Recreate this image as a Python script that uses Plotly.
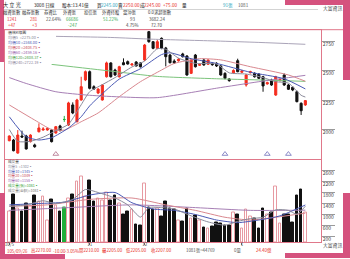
import plotly.graph_objects as go

W, H = 350, 259
F = "Noto Sans CJK TC"

# ---------------- data ----------------
day = list(range(1, 72))
opens = [1905, 1911, 1800, 1945, 1945, 1897, 1869, 1981, 1996, 1996,
         1996, 1970, 2030, 2085, 2038, 2208, 2066, 2250, 2420, 2490,
         2363, 2309, 2250, 2447, 2564, 2504, 2447, 2566, 2575, 2547,
         2572, 2564, 2589, 2829, 2744, 2688, 2773, 2691, 2631, 2580,
         2583, 2640, 2623, 2476, 2631, 2544, 2589, 2553, 2561, 2561,
         2538, 2476, 2428, 2480, 2583, 2485, 2377, 2481, 2476, 2470,
         2447, 2386, 2420, 2292, 2414, 2462, 2377, 2358, 2320, 2222,
         2208]
highs = [1950, 1920, 1995, 1990, 1955, 1960, 1880, 2052, 2020, 2020,
         2005, 2030, 2040, 2115, 2235, 2230, 2260, 2447, 2500, 2500,
         2375, 2350, 2385, 2575, 2570, 2515, 2540, 2603, 2585, 2560,
         2580, 2570, 2725, 2835, 2750, 2760, 2780, 2700, 2640, 2595,
         2605, 2650, 2630, 2600, 2640, 2560, 2600, 2595, 2570, 2570,
         2545, 2485, 2435, 2510, 2600, 2505, 2470, 2498, 2485, 2478,
         2455, 2405, 2430, 2455, 2432, 2475, 2385, 2365, 2330, 2230,
         2250]
lows = [1900, 1815, 1795, 1930, 1830, 1890, 1845, 1975, 1990, 1990,
        1890, 1965, 1985, 2065, 2030, 2130, 2060, 2245, 2410, 2340,
        2335, 2300, 2245, 2440, 2440, 2455, 2440, 2545, 2550, 2540,
        2535, 2525, 2580, 2735, 2680, 2680, 2680, 2535, 2560, 2555,
        2575, 2610, 2455, 2470, 2525, 2538, 2540, 2548, 2540, 2530,
        2455, 2425, 2405, 2470, 2485, 2478, 2363, 2475, 2440, 2428,
        2320, 2380, 2370, 2285, 2408, 2370, 2335, 2325, 2230, 2123,
        2200]
closes = [1945, 1820, 1953, 1936, 1835, 1953, 1854, 2013, 2004, 2010,
          1897, 2024, 1990, 2085, 2225, 2140, 2250, 2363, 2490, 2349,
          2343, 2343, 2377, 2564, 2447, 2462, 2532, 2549, 2555, 2555,
          2538, 2532, 2716, 2744, 2688, 2744, 2688, 2617, 2566, 2564,
          2595, 2617, 2462, 2589, 2532, 2552, 2547, 2589, 2549, 2538,
          2462, 2434, 2414, 2500, 2490, 2496, 2462, 2490, 2447, 2434,
          2369, 2397, 2377, 2447, 2425, 2377, 2341, 2335, 2236, 2159,
          2245]
volumes = [1100, 1734, 1225, 1127, 1407, 1284, 1684, 1465, 1647, 800,
           1553, 1345, 1102, 1262, 1589, 1734, 2218, 2375, 1647, 2230,
           1465, 1589, 1527, 1793, 1527, 1709, 1407, 982, 1102, 1164,
           654, 618, 2133, 1262, 1164, 1225, 921, 1465, 1225, 1164,
           800, 739, 1225, 860, 958, 800, 533, 497, 557, 703,
           679, 618, 618, 1067, 982, 473, 1188, 921, 860, 497,
           1225, 1018, 1067, 2036, 679, 982, 982, 715, 1709, 1927,
           1081]

# moving-average lines (day index, value)
ma5_day = [1, 3, 6, 9, 12, 15, 18, 20, 23, 26, 30, 33, 36, 38, 41, 45, 50, 53, 57, 61, 64, 67, 70, 71]
ma5_val = [2000, 1900, 1900, 1935, 1990, 2045, 2210, 2320, 2380, 2440, 2530, 2580, 2685, 2680, 2605, 2560, 2555, 2480, 2470, 2440, 2405, 2393, 2290, 2275]
ma10_day = [1, 5, 8, 11, 15, 18, 20, 22, 27, 32, 37, 39, 44, 50, 58, 66, 71]
ma10_val = [2108, 1939, 1911, 1930, 2013, 2108, 2200, 2270, 2427, 2515, 2635, 2650, 2600, 2560, 2485, 2430, 2344]
ma20_day = [1, 7, 11, 14, 18, 22, 27, 32, 37, 40, 46, 51, 58, 67, 71]
ma20_val = [2208, 2080, 2000, 1995, 2066, 2140, 2278, 2405, 2504, 2560, 2600, 2590, 2532, 2462, 2409]
ma60_day = [1, 5, 12, 20, 28, 36, 50, 60, 71]
ma60_val = [2440, 2390, 2320, 2290, 2275, 2270, 2350, 2405, 2459]
ma120_day = [11, 25, 36, 50, 60, 71]
ma120_val = [2552, 2495, 2450, 2430, 2420, 2408]
ma240_day = [11, 25, 35, 50, 60, 71]
ma240_val = [2790, 2780, 2765, 2750, 2738, 2722]

vma5_day = [1, 5, 9, 12, 16, 19, 22, 26, 29, 32, 34, 37, 40, 44, 48, 52, 55, 58, 61, 64, 67, 69, 71]
vma5_val = [1300, 1350, 1500, 1400, 1550, 1910, 1800, 1600, 1350, 905, 1250, 1250, 1200, 950, 730, 610, 750, 850, 900, 1170, 1150, 1010, 1302]
vma10_day = [1, 8, 14, 20, 26, 30, 35, 40, 45, 50, 55, 60, 65, 71]
vma10_val = [1350, 1400, 1450, 1706, 1800, 1427, 1200, 1150, 1000, 800, 705, 800, 950, 1345]
vma20_day = [1, 10, 20, 30, 38, 45, 52, 58, 64, 71]
vma20_val = [1300, 1350, 1550, 1600, 1350, 1150, 900, 800, 900, 1049]
vma60_day = [1, 15, 30, 45, 58, 71]
vma60_val = [1150, 1250, 1350, 1250, 1150, 1158]

signal_day = [12, 52, 62, 67]
signal_price = [1792, 1792, 1792, 1792]

price_ticks = [2000, 2250, 2500, 2750]
vol_ticks = [200, 600, 1000, 1400, 1800, 2200, 2600]
date_ticks = [1, 20, 33, 56]
date_labels = ["10/5", "11", "12", "1"]

# ---------------- styling ----------------
UP = "#f42c1e"
DOWN = "#111111"
FLAT = "#1fae3a"
VOL_UP_LINE = "#e79aa2"
C5, C10, C20, C60, C120, C240 = "#8a8a9a", "#4b5ab5", "#d9888f", "#a77fb5", "#7cc47c", "#aaa4b8"
FRAME = "#e0788a"
PINK = "#d5527e"


def X(px):
    return px / W


def Y(py):
    return 1 - py / H


fig = go.Figure()

# price MA lines
for d, v, c in [(ma240_day, ma240_val, C240), (ma120_day, ma120_val, C120), (ma60_day, ma60_val, C60),
                (ma20_day, ma20_val, C20), (ma10_day, ma10_val, C10), (ma5_day, ma5_val, C5)]:
    fig.add_trace(go.Scatter(x=d, y=v, mode="lines", line=dict(color=c, width=1, shape="spline", smoothing=0.6),
                             xaxis="x", yaxis="y", hoverinfo="skip"))

main_idx = [k for k in range(len(day)) if opens[k] != closes[k]]
flat_idx = [k for k in range(len(day)) if opens[k] == closes[k]]

fig.add_trace(go.Candlestick(
    x=[day[k] for k in main_idx], open=[opens[k] for k in main_idx], high=[highs[k] for k in main_idx],
    low=[lows[k] for k in main_idx], close=[closes[k] for k in main_idx],
    increasing=dict(line=dict(color=UP, width=1), fillcolor=UP),
    decreasing=dict(line=dict(color=DOWN, width=1), fillcolor=DOWN),
    xaxis="x", yaxis="y", whiskerwidth=0))
fig.add_trace(go.Candlestick(
    x=[day[k] for k in flat_idx], open=[opens[k] for k in flat_idx], high=[highs[k] for k in flat_idx],
    low=[lows[k] for k in flat_idx], close=[closes[k] for k in flat_idx],
    increasing=dict(line=dict(color=FLAT, width=1), fillcolor=FLAT),
    decreasing=dict(line=dict(color=FLAT, width=1), fillcolor=FLAT),
    xaxis="x", yaxis="y", whiskerwidth=0))

fig.add_trace(go.Scatter(x=signal_day, y=signal_price, mode="markers",
                         marker=dict(symbol="triangle-up-open", size=5,
                                     color=["#c08aa0", "#8a8ac8", "#8a8ac8", "#8a8ac8"], line=dict(width=1)),
                         xaxis="x", yaxis="y", hoverinfo="skip"))

# volume bars
fill, edge = [], []
for o, c in zip(opens, closes):
    if c > o:
        fill.append("white"); edge.append(VOL_UP_LINE)
    elif c < o:
        fill.append(DOWN); edge.append(DOWN)
    else:
        fill.append(FLAT); edge.append(FLAT)
fig.add_trace(go.Bar(x=day, y=volumes, width=0.62, marker=dict(color=fill, line=dict(color=edge, width=1)),
                     xaxis="x2", yaxis="y2", hoverinfo="skip"))

for d, v, c in [(vma60_day, vma60_val, C60), (vma20_day, vma20_val, C20),
                (vma10_day, vma10_val, C10), (vma5_day, vma5_val, C5)]:
    fig.add_trace(go.Scatter(x=d, y=v, mode="lines", line=dict(color=c, width=1, shape="spline", smoothing=0.6),
                             xaxis="x2", yaxis="y2", hoverinfo="skip"))

# ---------------- layout ----------------
xr = [-0.017, 74.63]
p_top, p_bot = 30, 159
v_top, v_bot = 159.5, 242
price_range = [2750 - (p_bot - 41) * 8.475, 2750 + (41 - p_top) * 8.475]
vol_range = [0, (v_bot - v_top) * 36.36]

axis_common = dict(showgrid=False, zeroline=False, showline=True, mirror=True, linecolor=FRAME, linewidth=1,
                   fixedrange=True)
tickfont = dict(family=F, size=5, color="#444")

fig.update_layout(
    width=W, height=H, margin=dict(l=0, r=0, t=0, b=0), autosize=False,
    paper_bgcolor="white", plot_bgcolor="white", showlegend=False, bargap=0,
    xaxis=dict(domain=[X(5), X(320.7)], range=xr, showticklabels=False, ticks="",
               rangeslider=dict(visible=False), anchor="y", **axis_common),
    yaxis=dict(domain=[Y(p_bot), Y(p_top)], range=price_range, side="right", anchor="x",
               tickvals=price_ticks, ticks="outside", ticklen=13, tickcolor="#9a9a9a", tickwidth=1,
               ticklabelstandoff=-13, ticklabelshift=3, tickfont=tickfont, **axis_common),
    xaxis2=dict(domain=[X(5), X(320.7)], range=xr, anchor="y2", tickvals=date_ticks, ticktext=date_labels,
                ticks="outside", ticklen=2, tickcolor="#666", ticklabelstandoff=-4,
                tickfont=dict(family=F, size=4.5, color="#444"), **axis_common),
    yaxis2=dict(domain=[Y(v_bot), Y(v_top)], range=vol_range, side="right", anchor="x2",
                tickvals=vol_ticks, ticks="outside", ticklen=13, tickcolor="#9a9a9a", tickwidth=1,
                ticklabelstandoff=-13, ticklabelshift=3, tickfont=tickfont, **axis_common),
)

shapes = []


def rect(x0, y0, x1, y1, color, layer="above"):
    shapes.append(dict(type="rect", xref="paper", yref="paper", x0=X(x0), x1=X(x1), y0=Y(y1), y1=Y(y0),
                       fillcolor=color, line=dict(width=0), layer=layer))


def hline(x0, x1, y, color, w=1):
    shapes.append(dict(type="line", xref="paper", yref="paper", x0=X(x0), x1=X(x1), y0=Y(y), y1=Y(y),
                       line=dict(color=color, width=w), layer="above"))


# legend backgrounds
rect(5.6, 30.6, 56, 64, "white")
rect(5.6, 160, 64, 191, "white")
# header lines
hline(0, 318, 9.5, "#c8c8c8", 0.8)
hline(0, 343, 29.7, FRAME, 1)
# pink corner brackets
rect(0, 0, 4, 62, PINK)
rect(285, 0, 350, 5, PINK)
rect(343, 0, 350, 80, PINK)
rect(0, 193, 5, 259, PINK)
rect(0, 254, 65, 259, PINK)
rect(343, 193, 350, 258, PINK)
rect(285, 253, 350, 258, PINK)
fig.update_layout(shapes=shapes)

ann = []


def txt(s, x, y, color="#333", size=5, anchor="left"):
    ann.append(dict(text=s, x=X(x), y=Y(y), xref="paper", yref="paper", xanchor=anchor, yanchor="middle",
                    showarrow=False, borderpad=0, font=dict(family=F, size=size, color=color)))


TEAL = "#2aa6bd"
RED = "#e8302a"
GREEN = "#2fa84a"
R1 = 4.6
# row 1
txt("大 立 光", 2, 5.5, "#222", 5.2)
txt("3008 日線", 33, 5.5, "#222", R1)
txt("股本:13.41億", 61, 5.5, "#222", R1)
txt("買", 96, 5.5, "#222", R1)
txt("2245.00", 100, 5.5, TEAL, R1)
txt("賣", 117.5, 5.5, "#222", R1)
txt("2250.00", 121.5, 5.5, RED, R1)
txt("成", 139, 5.5, "#222", R1)
txt("2245.00", 143, 5.5, RED, R1)
txt("+75.00", 162, 5.5, RED, R1)
txt("量", 180.5, 5.5, "#222", R1)
txt("91張", 222, 5.5, TEAL, R1)
txt("1081", 237, 5.5, "#555", R1)
txt("大富資訊", 332, 8, "#444", 4.8, "center")
# rows 2-4
for s, cx in [("融資張數", 12), ("融券張數", 31), ("券資比", 51), ("外資張", 70), ("投信張", 91),
              ("外資持股", 111), ("當沖張", 130), ("0.0求超張數", 160)]:
    txt(s, cx, 12.7, "#333", 4.3, "center")
for s, cx, c in [("1241", 12, RED), ("281", 34, RED), ("22.64%", 53, "#444"), ("66686", 72, GREEN),
                 ("51.22%", 111, GREEN), ("93", 132, "#444"), ("3682.24", 157, "#444")]:
    txt(s, cx, 19, c, 4.4, "center")
for s, cx, c in [("+47", 12, RED), ("+3", 34, RED), ("-247", 72, GREEN), ("4.75%", 132, "#444"),
                 ("72.70", 157, "#444")]:
    txt(s, cx, 24.5, c, 4.4, "center")

# price legend
txt("價格K線圖", 6.5, 32.3, "#444", 3.9)
for k, (s, c) in enumerate([("均價5  =2275.00▪", C5), ("均價10 =2344.00▪", C10), ("均價20 =2408.75▪", "#c85060"),
                            ("均價60 =2459.16▪", "#9a5fae"), ("均價120=2408.37▪", "#4aa04a"),
                            ("均價240=2722.19▪", "#8f8aa0")]):
    txt(s, 6.5, 37.2 + 5 * k, c, 3.9)

# volume legend
txt("成交量", 6.5, 161.8, "#444", 3.6)
for k, (s, c) in enumerate([("均量5  =1302▪", C5), ("均量10 =1345▪", C10), ("均量20 =1049▪", "#c85060"),
                            ("均量60 =1158▪", "#9a5fae"), ("成交量(張)=1081▪", "#3aa03a"),
                            ("成交量(金額)=1081▪", "#777")]):
    txt(s, 6.5, 166.5 + 4.7 * k, c, 3.6)

# bottom status row
for s, x, c in [("105/09/26", 6, RED), ("高2270.00", 30, RED), ("-10.00", 52, RED), ("-3.05%", 64, RED),
                ("開2210.00", 78, RED), ("最2205.00", 101, RED), ("低2205.00", 125, RED), ("收2207.00", 150, RED),
                ("1081張=44769", 185, "#555"), ("0量", 233, "#555"), ("24.40億", 255, RED)]:
    txt(s, x, 250.5, c, 4.4)
txt("大富資訊", 332, 245, "#444", 4.8, "center")

fig.update_layout(annotations=ann)
fig.write_html("out.html")
